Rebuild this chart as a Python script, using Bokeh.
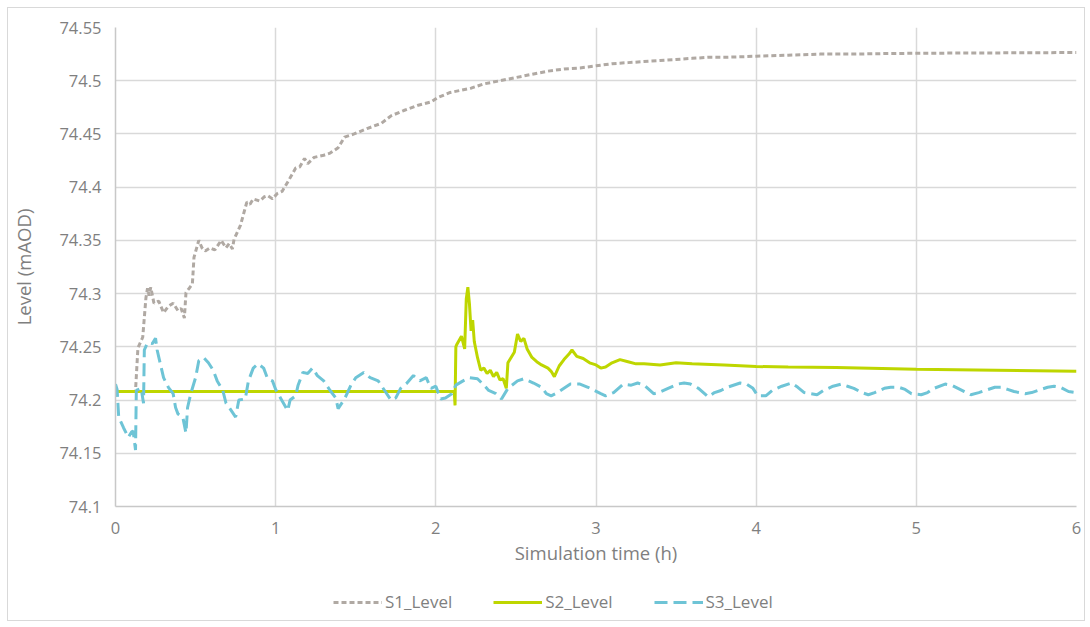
from bokeh.plotting import figure
from bokeh.layouts import column
from bokeh.models import FixedTicker, Legend, LegendItem
from bokeh.embed import file_html
from bokeh.resources import INLINE

# ---------------- data ----------------
s1_t = [0, 0.12, 0.125, 0.14, 0.17, 0.19, 0.2, 0.21, 0.22, 0.24, 0.27, 0.3, 0.33, 0.36, 0.39,
        0.41, 0.43, 0.44, 0.46, 0.48, 0.49, 0.52, 0.54, 0.56, 0.59, 0.62, 0.66, 0.69, 0.71,
        0.73, 0.74, 0.78, 0.82, 0.84, 0.86, 0.9, 0.93, 0.95, 0.98, 1.01, 1.04, 1.08, 1.125,
        1.15, 1.18, 1.2, 1.24, 1.3, 1.34, 1.39, 1.43, 1.49, 1.57, 1.66, 1.72, 1.8, 1.89,
        1.97, 2.01, 2.09, 2.22, 2.3, 2.4, 2.5, 2.6, 2.7, 2.8, 2.9, 3.0, 3.1, 3.2, 3.3, 3.4,
        3.5, 3.6, 3.7, 3.8, 4.0, 4.2, 4.4, 4.6, 4.8, 5.0, 5.3, 5.6, 6.0]
s1_level = [74.208, 74.208, 74.209, 74.249, 74.259, 74.296, 74.305, 74.298, 74.306, 74.291,
            74.293, 74.282, 74.288, 74.291, 74.284, 74.286, 74.277, 74.301, 74.305, 74.309,
            74.334, 74.350, 74.343, 74.340, 74.343, 74.341, 74.350, 74.343, 74.347, 74.342,
            74.351, 74.364, 74.386, 74.384, 74.389, 74.387, 74.391, 74.392, 74.389, 74.394,
            74.396, 74.406, 74.418, 74.419, 74.427, 74.422, 74.428, 74.430, 74.432, 74.437,
            74.447, 74.450, 74.455, 74.460, 74.467, 74.472, 74.477, 74.480, 74.484, 74.489,
            74.493, 74.497, 74.500, 74.503, 74.506, 74.509, 74.511, 74.512, 74.514, 74.516,
            74.517, 74.518, 74.519, 74.520, 74.521, 74.522, 74.522, 74.523, 74.524, 74.525,
            74.525, 74.5255, 74.5258, 74.526, 74.5262, 74.5265]

s2_t = [0, 2.115, 2.12, 2.125, 2.13, 2.16, 2.18, 2.19, 2.2, 2.21, 2.22, 2.23, 2.24, 2.26, 2.28,
        2.3, 2.32, 2.34, 2.36, 2.38, 2.4, 2.42, 2.44, 2.45, 2.47, 2.49, 2.51, 2.53, 2.55, 2.57,
        2.6, 2.63, 2.66, 2.7, 2.72, 2.74, 2.77, 2.8, 2.83, 2.85, 2.88, 2.92, 2.96, 3.0, 3.03,
        3.06, 3.1, 3.15, 3.2, 3.25, 3.3, 3.4, 3.5, 3.6, 3.8, 4.0, 4.2, 4.5, 5.0, 5.5, 6.0]
s2_level = [74.208, 74.208, 74.195, 74.250, 74.252, 74.260, 74.248, 74.295, 74.306, 74.290,
            74.265, 74.275, 74.255, 74.240, 74.228, 74.230, 74.225, 74.228, 74.222, 74.226,
            74.219, 74.220, 74.211, 74.235, 74.240, 74.245, 74.262, 74.255, 74.258, 74.248,
            74.240, 74.236, 74.233, 74.230, 74.227, 74.222, 74.232, 74.238, 74.243, 74.247,
            74.241, 74.239, 74.235, 74.233, 74.230, 74.231, 74.235, 74.238, 74.236, 74.234,
            74.234, 74.233, 74.235, 74.234, 74.233, 74.2315, 74.231, 74.2305, 74.229, 74.228,
            74.227]

s3_t = [0, 0.01, 0.02, 0.05, 0.08, 0.1, 0.11, 0.125, 0.13, 0.16, 0.175, 0.18, 0.2, 0.23, 0.25,
        0.26, 0.28, 0.3, 0.33, 0.36, 0.375, 0.39, 0.42, 0.44, 0.45, 0.47, 0.5, 0.52, 0.55,
        0.58, 0.61, 0.635, 0.67, 0.69, 0.71, 0.75, 0.77, 0.81, 0.83, 0.86, 0.89, 0.925, 0.95,
        0.98, 1.0, 1.03, 1.075, 1.09, 1.125, 1.14, 1.17, 1.2, 1.23, 1.26, 1.3, 1.34, 1.375,
        1.39, 1.43, 1.47, 1.5, 1.55, 1.59, 1.64, 1.68, 1.72, 1.75, 1.78, 1.82, 1.86, 1.9,
        1.94, 1.97, 2.0, 2.03, 2.06, 2.1, 2.125, 2.17, 2.21, 2.26, 2.3, 2.33, 2.375, 2.41,
        2.45, 2.51, 2.55, 2.61, 2.66, 2.69, 2.72, 2.76, 2.8, 2.84, 2.9, 2.95, 2.99, 3.03,
        3.06, 3.11, 3.17, 3.22, 3.26, 3.3, 3.36, 3.39, 3.45, 3.51, 3.55, 3.59, 3.64, 3.7,
        3.74, 3.78, 3.82, 3.9, 3.94, 3.98, 4.01, 4.06, 4.1, 4.16, 4.22, 4.26, 4.3, 4.38,
        4.42, 4.48, 4.53, 4.57, 4.61, 4.66, 4.7, 4.74, 4.8, 4.84, 4.89, 4.93, 4.97, 5.03,
        5.07, 5.11, 5.18, 5.22, 5.26, 5.3, 5.34, 5.39, 5.43, 5.49, 5.53, 5.57, 5.61, 5.68,
        5.72, 5.76, 5.82, 5.86, 5.9, 5.95, 6.0]
s3_level = [74.215, 74.210, 74.184, 74.174, 74.165, 74.170, 74.171, 74.153, 74.209, 74.211,
            74.197, 74.247, 74.254, 74.253, 74.258, 74.247, 74.234, 74.221, 74.212, 74.206,
            74.193, 74.187, 74.184, 74.169, 74.193, 74.206, 74.221, 74.237, 74.240, 74.235,
            74.228, 74.218, 74.209, 74.197, 74.193, 74.184, 74.200, 74.201, 74.218, 74.230,
            74.234, 74.230, 74.220, 74.218, 74.210, 74.202, 74.190, 74.200, 74.204, 74.214,
            74.226, 74.225, 74.230, 74.223, 74.218, 74.209, 74.202, 74.192, 74.201, 74.214,
            74.221, 74.226, 74.221, 74.218, 74.209, 74.200, 74.202, 74.211, 74.216, 74.223,
            74.218, 74.221, 74.211, 74.213, 74.201, 74.202, 74.206, 74.214, 74.218, 74.221,
            74.220, 74.214, 74.209, 74.206, 74.201, 74.211, 74.218, 74.220, 74.216, 74.212,
            74.206, 74.204, 74.207, 74.211, 74.215, 74.215, 74.212, 74.209, 74.206, 74.204,
            74.207, 74.215, 74.214, 74.216, 74.214, 74.206, 74.207, 74.211, 74.215, 74.216,
            74.215, 74.211, 74.203, 74.207, 74.209, 74.212, 74.216, 74.215, 74.211, 74.204,
            74.204, 74.209, 74.213, 74.216, 74.212, 74.207, 74.205, 74.209, 74.213, 74.215,
            74.213, 74.211, 74.207, 74.205, 74.207, 74.211, 74.212, 74.212, 74.210, 74.206,
            74.205, 74.207, 74.211, 74.215, 74.214, 74.211, 74.208, 74.205, 74.207, 74.209,
            74.212, 74.212, 74.210, 74.208, 74.206, 74.207, 74.209, 74.212, 74.213, 74.212,
            74.208, 74.207]

x_ticks = [0, 1, 2, 3, 4, 5, 6]
x_tick_labels = ["0", "1", "2", "3", "4", "5", "6"]
y_ticks = [74.1, 74.15, 74.2, 74.25, 74.3, 74.35, 74.4, 74.45, 74.5, 74.55]
y_tick_labels = ["74.1", "74.15", "74.2", "74.25", "74.3", "74.35", "74.4", "74.45", "74.5", "74.55"]
series_names = ["S1_Level", "S2_Level", "S3_Level"]

# ---------------- styles ----------------
FONT = "Open Sans"
TXT = "#7F7F7F"
styles = [dict(line_color="#B0A9A3", line_width=3, line_dash="5 3"),
          dict(line_color="#BED600", line_width=3),
          dict(line_color="#6EC4D6", line_width=3, line_dash="13 6")]
series = [(s1_t, s1_level), (s2_t, s2_level), (s3_t, s3_level)]

# ---------------- main figure ----------------
p = figure(frame_width=961, frame_height=479, x_range=(0, 6), y_range=(74.1, 74.55),
           output_backend="svg", toolbar_location=None,
           min_border_left=107, min_border_top=19, min_border_right=8, min_border_bottom=64)
p.outline_line_color = None

p.xaxis.ticker = FixedTicker(ticks=x_ticks)
p.xaxis.major_label_overrides = dict(zip(x_ticks, x_tick_labels))
p.yaxis.ticker = FixedTicker(ticks=y_ticks)
p.yaxis.major_label_overrides = dict(zip(y_ticks, y_tick_labels))
p.xgrid.ticker = FixedTicker(ticks=x_ticks)
p.ygrid.ticker = FixedTicker(ticks=y_ticks)
for g in (p.xgrid, p.ygrid):
    g.grid_line_color = "#D9D9D9"
    g.grid_line_width = 1.5

for ax in (p.xaxis, p.yaxis):
    ax.axis_line_color = "#C8C8C8"
    ax.axis_line_width = 1.5
    ax.major_tick_line_color = None
    ax.minor_tick_line_color = None
    ax.major_tick_out = 0
    ax.major_tick_in = 0
    ax.major_label_text_font = FONT
    ax.major_label_text_font_size = "16.5px"
    ax.major_label_text_color = TXT
    ax.axis_label_text_font = FONT
    ax.axis_label_text_font_size = "18.5px"
    ax.axis_label_text_font_style = "normal"
    ax.axis_label_text_color = TXT

p.xaxis.axis_label = "Simulation time (h)"
p.yaxis.axis_label = "Level (mAOD)"
p.xaxis.major_label_standoff = 15
p.xaxis.axis_label_standoff = 3
p.yaxis.major_label_standoff = 14
p.yaxis.axis_label_standoff = 20

for (t, lv), st in zip(series, styles):
    p.line(t, lv, **st)

# ---------------- legend strip (series lie outside its view; only the key shows) ----------------
lg = figure(width=1076, height=50, x_range=(10, 11), y_range=(0, 1),
            output_backend="svg", toolbar_location=None,
            x_axis_type=None, y_axis_type=None, min_border=0)
lg.outline_line_color = None
lg.grid.visible = False
items = []
for name, (t, lv), st in zip(series_names, series, styles):
    r = lg.line(t, lv, **st)
    items.append(LegendItem(label=name, renderers=[r]))
legend = Legend(items=items, location=(218, 7), orientation="horizontal",
                glyph_width=49, glyph_height=20, label_height=20,
                label_standoff=3, spacing=41, padding=0, margin=0,
                border_line_alpha=0, background_fill_alpha=0,
                label_text_font=FONT, label_text_font_size="17px",
                label_text_color=TXT)
lg.add_layout(legend, "center")

layout = column(p, lg, spacing=0)
layout.margin = (7, 0, 0, 7)
layout.styles = {"border": "1px solid #D9D9D9"}

open("out.html", "w").write(file_html(layout, INLINE))
